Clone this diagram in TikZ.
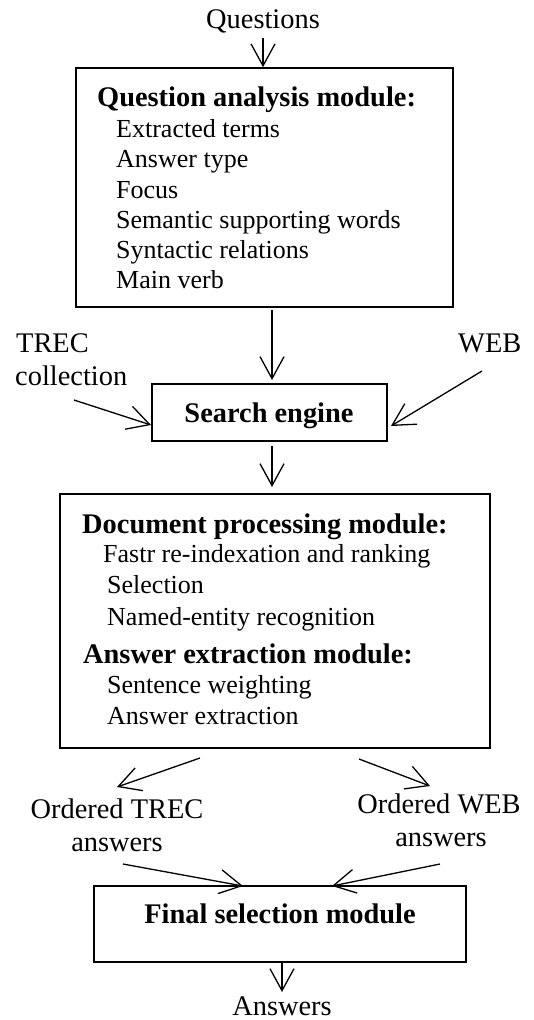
\documentclass[tikz,border=0pt]{standalone}
\usepackage{fontspec}
\setmainfont{Liberation Serif}
\usetikzlibrary{arrows.meta}
\tikzset{
  x=1pt,y=1pt,
  boxnode/.style={draw,line width=1.6pt,inner sep=0,minimum width=#1},
  txt/.style={inner sep=0,font=\fontsize{28.4}{30}\selectfont},
  bld/.style={inner sep=0,font=\fontsize{28.4}{30}\selectfont\bfseries},
  itm/.style={inner sep=0,font=\fontsize{26}{30}\selectfont,anchor=base west},
  arr/.style={line width=1.3pt,-{Straight Barb[length=22pt,width=24pt,line width=1.3pt]}}
}
\begin{document}
\begin{tikzpicture}
\useasboundingbox (0,0) rectangle (534,-1020);
% boxes
\node[boxnode=377, minimum height=239] (qa) at (264.5,-187.5) {};
\node[boxnode=235, minimum height=57] (se) at (269.5,-412.5) {};
\node[boxnode=430, minimum height=254] (dp) at (275,-621) {};
\node[boxnode=372, minimum height=76] (fs) at (280,-924) {};
% texts
\node[txt,anchor=base] (q) at (263,-28) {Questions};
\node[bld,anchor=base west] (qah) at (97,-106) {Question analysis module:};
\node[itm] (qa1) at (116,-137) {Extracted terms};
\node[itm] (qa2) at (116,-167) {Answer type};
\node[itm] (qa3) at (116,-198) {Focus};
\node[itm] (qa4) at (116,-228) {Semantic supporting words};
\node[itm] (qa5) at (116,-258) {Syntactic relations};
\node[itm] (qa6) at (116,-288) {Main verb};
\node[txt,anchor=base west] (trec1) at (16,-352) {TREC};
\node[txt,anchor=base west] (trec2) at (15,-385) {collection};
\node[txt,anchor=base west] (web) at (458,-352) {WEB};
\node[bld,anchor=base] (set) at (269,-422) {Search engine};
\node[bld,anchor=base west] (dph) at (82,-533) {Document processing module:};
\node[itm] (dp1) at (103,-562) {Fastr re-indexation and ranking};
\node[itm] (dp2) at (107,-593) {Selection};
\node[itm] (dp3) at (107,-625) {Named-entity recognition};
\node[bld,anchor=base west] (aeh) at (83,-663) {Answer extraction module:};
\node[itm] (ae1) at (107,-693) {Sentence weighting};
\node[itm] (ae2) at (107,-724) {Answer extraction};
\node[txt,anchor=base] (ot1) at (117,-818) {Ordered TREC};
\node[txt,anchor=base] (ot2) at (117,-851) {answers};
\node[txt,anchor=base] (ow1) at (439,-813) {Ordered WEB};
\node[txt,anchor=base] (ow2) at (441,-846) {answers};
\node[bld,anchor=base] (fst) at (280,-923) {Final selection module};
\node[txt,anchor=base] (ans) at (282,-1015) {Answers};
% connector ends
\coordinate (c1) at (272,-310);
\coordinate (c2) at (272,-380);
\coordinate (c3) at (74,-400);
\coordinate (c4) at (151,-425);
\coordinate (c5) at (482,-371);
\coordinate (c6) at (391,-426);
\coordinate (c7) at (272,-446);
\coordinate (c8) at (272,-487);
\coordinate (c9) at (200,-758);
\coordinate (c10) at (117,-787);
\coordinate (c11) at (359,-759);
\coordinate (c12) at (430,-786);
\coordinate (c13) at (123,-864);
\coordinate (c14) at (243,-886);
\coordinate (c15) at (440,-864);
\coordinate (c16) at (332,-886);
\coordinate (c17) at (282,-962);
\coordinate (c18) at (282,-992);
% connectors
\draw[arr] (263,-38) -- (q |- qa.north);
\draw[arr] (c1) -- (c2);
\draw[arr] (c3) -- (c4);
\draw[arr] (c5) -- (c6);
\draw[arr] (c7) -- (c8);
\draw[arr] (c9) -- (c10);
\draw[arr] (c11) -- (c12);
\draw[arr] (c13) -- (c14);
\draw[arr] (c15) -- (c16);
\draw[arr] (c17) -- (c18);
\end{tikzpicture}
\end{document}
